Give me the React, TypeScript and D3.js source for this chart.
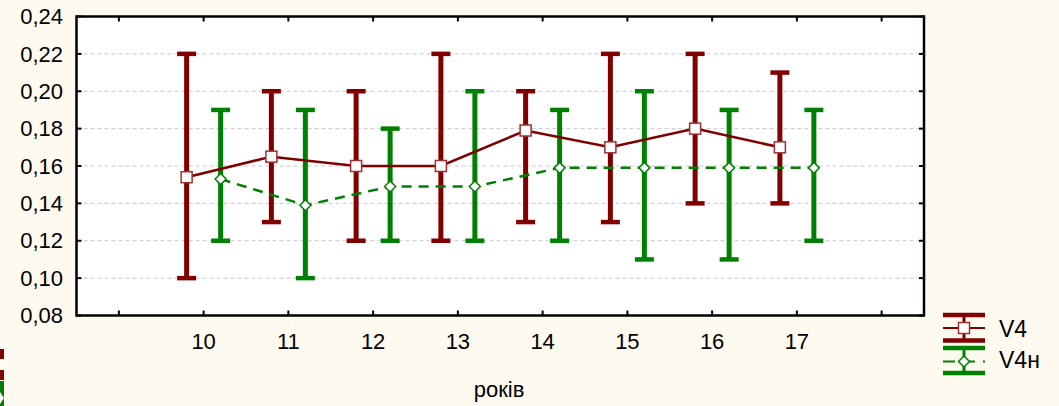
import React from "react";
import * as d3 from "d3";

const years = [10, 11, 12, 13, 14, 15, 16, 17];
const v4Mean = [0.154, 0.165, 0.16, 0.16, 0.179, 0.17, 0.18, 0.17];
const v4Low = [0.10, 0.13, 0.12, 0.12, 0.13, 0.13, 0.14, 0.14];
const v4High = [0.22, 0.20, 0.20, 0.22, 0.20, 0.22, 0.22, 0.21];
const v4nMean = [0.153, 0.139, 0.149, 0.149, 0.159, 0.159, 0.159, 0.159];
const v4nLow = [0.12, 0.10, 0.12, 0.12, 0.12, 0.11, 0.11, 0.12];
const v4nHigh = [0.19, 0.19, 0.18, 0.20, 0.19, 0.20, 0.19, 0.19];
const yTicks = [0.08, 0.10, 0.12, 0.14, 0.16, 0.18, 0.20, 0.22, 0.24];
const xTickPositions = [9, 10, 11, 12, 13, 14, 15, 16, 17, 18];

const W = 1059;
const H = 406;
const left = 76.5, right = 924, top = 16.5, bottom = 315.5;
const RED = "#800000";
const GREEN = "#008000";
const FONT = "'Liberation Sans', Arial, sans-serif";

export default function App() {
  const x = d3.scaleLinear().domain([8.5, 18.5]).range([left, right]);
  const y = d3.scaleLinear().domain([0.08, 0.24]).range([bottom, top]);
  const off = 17;
  const fmt = (v: number) => v.toFixed(2).replace(".", ",");

  const redLine = d3
    .line<number>()
    .x((_, i) => x(years[i]) - off)
    .y((d) => y(d))(v4Mean) as string;
  const greenLine = d3
    .line<number>()
    .x((_, i) => x(years[i]) + off)
    .y((d) => y(d))(v4nMean) as string;

  const capW = 19;
  const errBar = (cx: number, lo: number, hi: number, color: string, key: string) => (
    <g key={key}>
      <line x1={cx} x2={cx} y1={y(hi)} y2={y(lo)} stroke={color} strokeWidth={5} />
      <line x1={cx - capW / 2} x2={cx + capW / 2} y1={y(hi)} y2={y(hi)} stroke={color} strokeWidth={4.5} />
      <line x1={cx - capW / 2} x2={cx + capW / 2} y1={y(lo)} y2={y(lo)} stroke={color} strokeWidth={4.5} />
    </g>
  );

  const diamond = (cx: number, cy: number, r: number) =>
    `M${cx},${cy - r}L${cx + r},${cy}L${cx},${cy + r}L${cx - r},${cy}Z`;

  return (
    <div style={{ position: "fixed", left: 0, top: 0 }}>
      <svg width={W} height={H} style={{ display: "block" }}>
        <rect x={0} y={0} width={W} height={H} fill="#fffaf0" />
        <rect x={left} y={top} width={right - left} height={bottom - top} fill="#ffffff" />
        {/* grid */}
        {yTicks.slice(1, -1).map((t) => (
          <line key={"g" + t} x1={left} x2={right} y1={y(t)} y2={y(t)} stroke="#c8c8c8" strokeWidth={1} strokeDasharray="4,3" />
        ))}
        {/* ticks inward */}
        {yTicks.map((t) => (
          <g key={"yt" + t}>
            <line x1={left} x2={left + 5} y1={y(t)} y2={y(t)} stroke="#000" strokeWidth={2} />
            <line x1={right - 5} x2={right} y1={y(t)} y2={y(t)} stroke="#000" strokeWidth={2} />
          </g>
        ))}
        {xTickPositions.map((t) => (
          <g key={"xt" + t}>
            <line x1={x(t)} x2={x(t)} y1={bottom} y2={bottom - 5} stroke="#000" strokeWidth={2} />
            <line x1={x(t)} x2={x(t)} y1={top} y2={top + 5} stroke="#000" strokeWidth={2} />
          </g>
        ))}
        {/* y labels */}
        {yTicks.map((t) => (
          <text key={"yl" + t} x={63} y={y(t)} dy="0.35em" textAnchor="end" fontFamily={FONT} fontSize={22} fill="#000">
            {fmt(t)}
          </text>
        ))}
        {/* x labels */}
        {years.map((t) => (
          <text key={"xl" + t} x={x(t)} y={349} textAnchor="middle" fontFamily={FONT} fontSize={22} fill="#000">
            {t}
          </text>
        ))}
        <text x={499} y={397} textAnchor="middle" fontFamily={FONT} fontSize={22} fill="#000">років</text>

        {/* error bars */}
        {years.map((yr, i) => errBar(x(yr) - off, v4Low[i], v4High[i], RED, "r" + yr))}
        {years.map((yr, i) => errBar(x(yr) + off, v4nLow[i], v4nHigh[i], GREEN, "n" + yr))}

        {/* lines */}
        <path d={redLine} fill="none" stroke={RED} strokeWidth={2.5} />
        <path d={greenLine} fill="none" stroke={GREEN} strokeWidth={2.5} strokeDasharray="10,7" />

        {/* markers */}
        {years.map((yr, i) => (
          <rect key={"sq" + yr} x={x(yr) - off - 5.5} y={y(v4Mean[i]) - 5.5} width={11} height={11} fill="#fff" stroke="#a03030" strokeWidth={1.5} />
        ))}
        {years.map((yr, i) => (
          <path key={"dm" + yr} d={diamond(x(yr) + off, y(v4nMean[i]), 5.5)} fill="#fff" stroke={GREEN} strokeWidth={1.5} />
        ))}

        {/* frame */}
        <rect x={left} y={top} width={right - left} height={bottom - top} fill="none" stroke="#000" strokeWidth={2.5} />

        {/* legend */}
        <g>
          <line x1={943} x2={985} y1={315} y2={315} stroke={RED} strokeWidth={4.5} />
          <line x1={943} x2={985} y1={340.5} y2={340.5} stroke={RED} strokeWidth={4.5} />
          <line x1={964} x2={964} y1={315} y2={340.5} stroke={RED} strokeWidth={3} />
          <line x1={943} x2={985} y1={328} y2={328} stroke={RED} strokeWidth={2} />
          <rect x={958.5} y={322.5} width={11} height={11} fill="#fff" stroke="#a03030" strokeWidth={1.5} />
          <text x={999} y={337} fontFamily={FONT} fontSize={23} fill="#000">V4</text>

          <line x1={943} x2={985} y1={348} y2={348} stroke={GREEN} strokeWidth={4.5} />
          <line x1={943} x2={985} y1={373} y2={373} stroke={GREEN} strokeWidth={4.5} />
          <line x1={964} x2={964} y1={348} y2={373} stroke={GREEN} strokeWidth={3} />
          <line x1={943} x2={985} y1={361.5} y2={361.5} stroke={GREEN} strokeWidth={2} strokeDasharray="12,8" />
          <path d={diamond(964, 361.5, 5.5)} fill="#fff" stroke={GREEN} strokeWidth={1.5} />
          <text x={999} y={368} fontFamily={FONT} fontSize={23} fill="#000">V4н</text>
        </g>

        {/* clipped legend fragment at bottom left */}
        <rect x={0} y={349} width={4} height={10} fill={RED} />
        <rect x={0} y={370} width={4} height={10} fill={RED} />
        <rect x={0} y={381} width={4} height={25} fill={GREEN} />
        <path d="M0,392L4,398L0,404Z" fill="#fff" />
      </svg>
    </div>
  );
}
